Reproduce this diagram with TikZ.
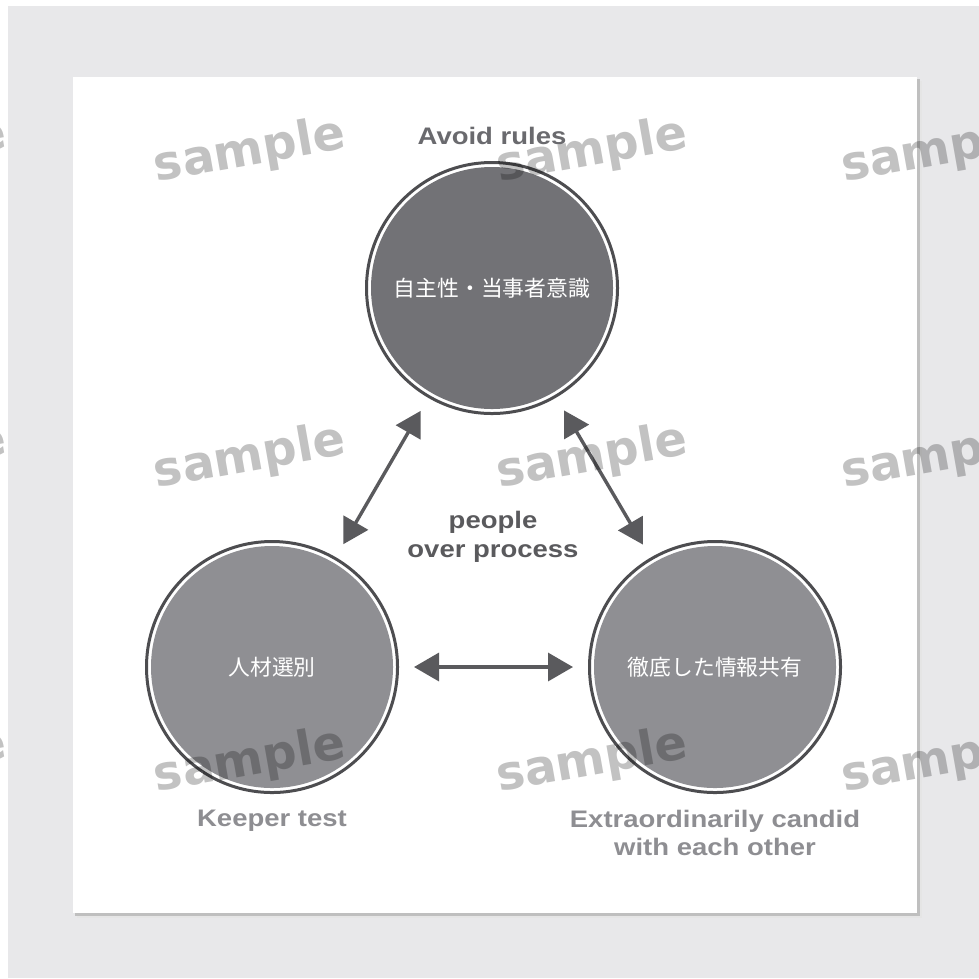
\documentclass[tikz,border=0pt]{standalone}
\usepackage{fontspec}
\setmainfont{Liberation Sans}[FakeStretch=1.15]
\newfontfamily\jpfont{Noto Sans CJK JP}
\newfontfamily\wmfont{DejaVu Sans Bold}
\usetikzlibrary{arrows.meta, positioning, calc}

\definecolor{pagebg}{HTML}{E8E8EA}
\definecolor{ringdark}{HTML}{4D4D50}
\definecolor{topfill}{HTML}{727276}
\definecolor{sidefill}{HTML}{8F8F93}
\definecolor{linkgray}{HTML}{5A5A5D}
\definecolor{titlegray}{HTML}{6A6A6E}
\definecolor{notegray}{HTML}{8E8E92}

\tikzset{
    ring/.style={
        circle, draw=ringdark, line width=0.75mm, fill=white,
        minimum size=62.75mm, inner sep=0pt, text=white,
        font=\jpfont\fontsize{15.5}{18}\selectfont,
        path picture={\fill[#1] (path picture bounding box.center) circle (30.25mm);}
    },
    ring/.default={sidefill},
    link/.style={
        draw=linkgray, line width=0.85mm,
        {Triangle[length=6.25mm, width=7mm]}-{Triangle[length=6.25mm, width=7mm]},
        shorten >=3.75mm, shorten <=3.75mm
    },
    lbl/.style={inner sep=0pt, align=center, font=\bfseries\fontsize{17}{19.5}\selectfont},
    wm/.style={rotate=10, text=black, opacity=0.24, font=\wmfont\fontsize{34}{34}\selectfont}
}

\begin{document}
\begin{tikzpicture}[x=0.25mm, y=-0.25mm]
    \useasboundingbox (0,0) rectangle (979,978);
    \fill[white] (0,0) rectangle (979,978);
    \fill[pagebg] (8,6) rectangle (979,978);
    % sheet with its shadow
    \fill[black!10] (77,81) rectangle (922,918);
    \fill[black!25] (75,79) rectangle (920,916);
    \fill[white] (73,77) rectangle (917,913);

    \node[ring=topfill] (top) at (492,288) {自主性・当事者意識};
    \node[ring] (left) at (272,667) {人材選別};
    \node[ring] (right) at (715,667) {徹底した情報共有};

    \draw[link] (top) -- (left);
    \draw[link] (top) -- (right);
    \draw[link] (left) -- (right);

    \node[lbl, text=titlegray, above=4mm of top] (toplbl) {Avoid rules};
    \node[lbl, text=notegray, below=4mm of left] (leftlbl) {Keeper test};
    \node[lbl, text=notegray, below=4mm of right] (rightlbl) {Extraordinarily candid\\with each other};
    \node[lbl, text=linkgray, font=\bfseries\fontsize{17}{20.5}\selectfont]
        (core) at ($(barycentric cs:top=1,left=1,right=1)+(0,-4)$) {people\\over process};

    % watermark
    \foreach \wy in {152,458,762}
        \foreach \wx in {-89,250,592,937}
            \node[wm] at (\wx,\wy) {sample};
\end{tikzpicture}
\end{document}
